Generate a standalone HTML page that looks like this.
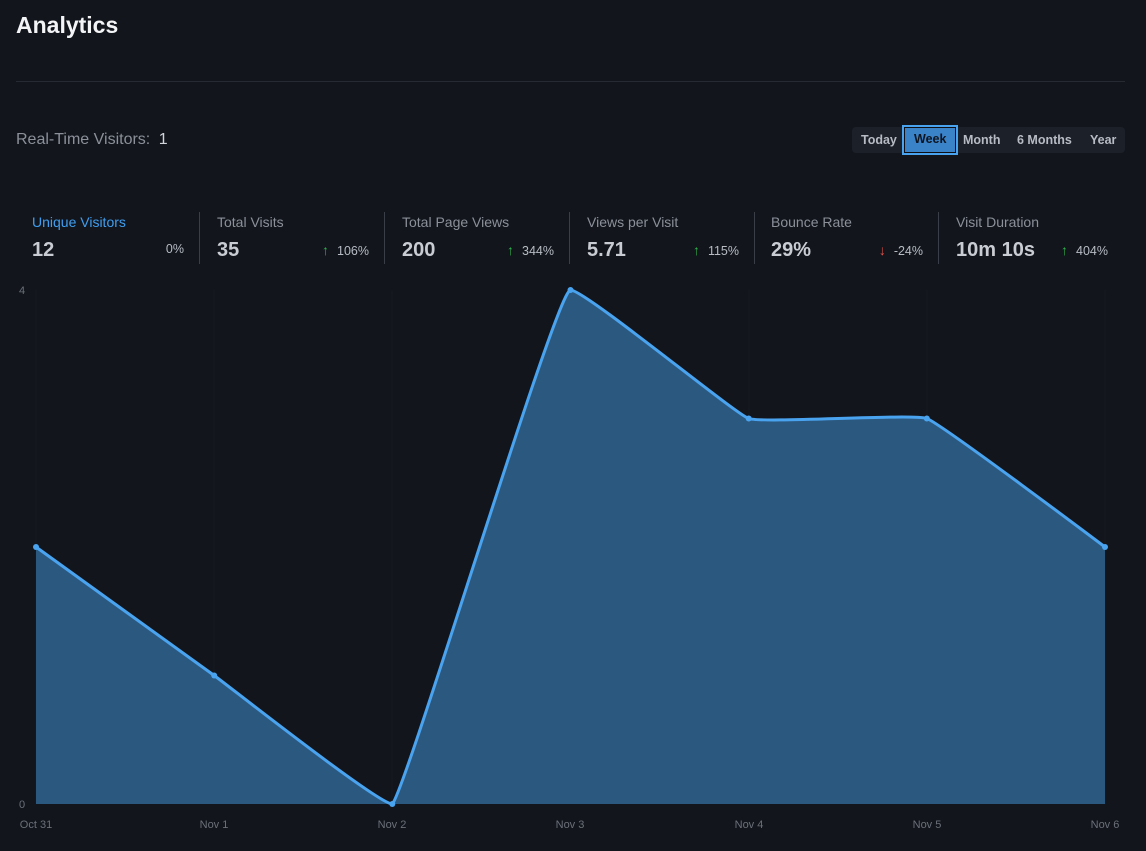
<!DOCTYPE html>
<html><head><meta charset="utf-8"><style>
body{margin:0;width:1146px;height:851px;background:#12151c;font-family:"Liberation Sans",sans-serif;overflow:hidden;position:relative;color:#d1d5db}
.a{position:absolute}
h1{position:absolute;left:16px;top:12px;margin:0;font-size:23px;font-weight:bold;color:#f3f4f6}
.hr{position:absolute;left:16px;top:81px;width:1109px;height:1px;background:#262a33}
.rt{left:16px;top:131px;font-size:16px;color:#8b9099}
.rt b{font-weight:normal;color:#d1d5db;margin-left:4px}
.seg{left:852px;top:127px;width:273px;height:26px;background:#1c2029;border-radius:4px}
.btn{position:absolute;top:6px;font-size:12.5px;font-weight:bold;color:#b7bcc4}
.wk{left:902px;top:125px;width:52px;height:26px;border:2px solid #4aa3ef;background:#3a83c9;box-shadow:inset 0 0 0 1px #0d0f14}
.stat{position:absolute;top:212px;height:52px;width:184px}
.lbl{position:absolute;left:16px;top:2px;font-size:14px;color:#8b9099}
.val{position:absolute;left:16px;top:27px;font-size:20px;font-weight:bold;color:#c9ccd2}
.pct{position:absolute;right:16px;top:30px;font-size:12.5px;color:#b7bcc4}
.sep{position:absolute;right:0;top:0;width:1px;height:52px;background:#3a3e46}
.up{color:#2fb24c;margin-right:8px;font-weight:bold;font-size:14px}.dn{color:#e5534b;margin-right:8px;font-weight:bold;font-size:14px}
</style></head><body>
<h1>Analytics</h1><div class="hr"></div>
<div class="a rt">Real-Time Visitors: <b>1</b></div>
<div class="a seg">
<span class="btn" style="left:9px">Today</span>
<span class="btn" style="left:111px">Month</span>
<span class="btn" style="left:165px">6 Months</span>
<span class="btn" style="left:238px">Year</span>
</div>
<div class="a wk"><span class="btn" style="left:10px;top:5px;color:#0f1520">Week</span></div>
<div class="stat" style="left:16px"><div class="lbl" style="color:#3f9ef0">Unique Visitors</div><div class="val">12</div><div class="pct">0%</div><div class="sep"></div></div>
<div class="stat" style="left:201px"><div class="lbl">Total Visits</div><div class="val">35</div><div class="pct"><span class="up">↑</span>106%</div><div class="sep"></div></div>
<div class="stat" style="left:386px"><div class="lbl">Total Page Views</div><div class="val">200</div><div class="pct"><span class="up">↑</span>344%</div><div class="sep"></div></div>
<div class="stat" style="left:571px"><div class="lbl">Views per Visit</div><div class="val">5.71</div><div class="pct"><span class="up">↑</span>115%</div><div class="sep"></div></div>
<div class="stat" style="left:755px"><div class="lbl">Bounce Rate</div><div class="val">29%</div><div class="pct"><span class="dn">↓</span>-24%</div><div class="sep"></div></div>
<div class="stat" style="left:940px"><div class="lbl">Visit Duration</div><div class="val">10m 10s</div><div class="pct"><span class="up">↑</span>404%</div></div>
<svg class="a" style="left:0;top:0" width="1146" height="851">
<g stroke="#171a21" stroke-width="1">
<line x1="36" y1="290" x2="36" y2="804"/><line x1="214" y1="290" x2="214" y2="804"/><line x1="392" y1="290" x2="392" y2="804"/><line x1="570" y1="290" x2="570" y2="804"/><line x1="749" y1="290" x2="749" y2="804"/><line x1="927" y1="290" x2="927" y2="804"/><line x1="1105" y1="290" x2="1105" y2="804"/>
</g>
<path d="M36,547 C36,547 199.9,665.2 214.2,675.5 C228.5,685.8 378,804 392.3,804 C406.6,788.6 556.2,290 570.5,290 C584.8,290 734.4,413.4 748.7,418.5 C763,423.6 912.5,413.4 926.8,418.5 C941.1,423.6 1105,547 1105,547 L1105,804 L36,804 Z" fill="#2b587f"/>
<path d="M36,547 C36,547 199.9,665.2 214.2,675.5 C228.5,685.8 378,804 392.3,804 C406.6,788.6 556.2,290 570.5,290 C584.8,290 734.4,413.4 748.7,418.5 C763,423.6 912.5,413.4 926.8,418.5 C941.1,423.6 1105,547 1105,547" fill="none" stroke="#4aa3ef" stroke-width="3"/>
<g fill="#4aa3ef"><circle cx="36" cy="547" r="3"/><circle cx="214.2" cy="675.5" r="3"/><circle cx="392.3" cy="804" r="3"/><circle cx="570.5" cy="290" r="3"/><circle cx="748.7" cy="418.5" r="3"/><circle cx="926.8" cy="418.5" r="3"/><circle cx="1105" cy="547" r="3"/></g>
<g font-family="Liberation Sans,sans-serif" font-size="11" fill="#6b7079">
<text x="19" y="294">4</text><text x="19" y="808">0</text>
<g text-anchor="middle"><text x="36" y="828">Oct 31</text><text x="214" y="828">Nov 1</text><text x="392" y="828">Nov 2</text><text x="570" y="828">Nov 3</text><text x="749" y="828">Nov 4</text><text x="927" y="828">Nov 5</text><text x="1105" y="828">Nov 6</text></g>
</g>
</svg>
</body></html>
